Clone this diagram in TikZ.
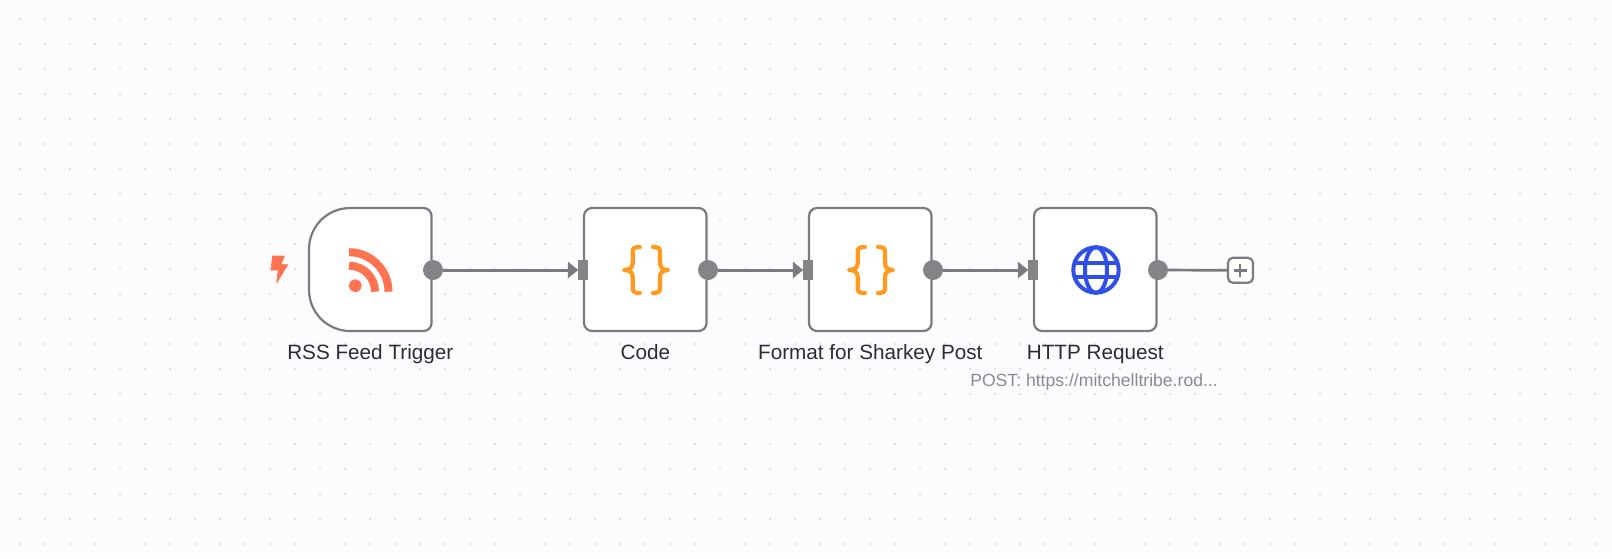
\documentclass[tikz,border=0pt]{standalone}
\usepackage{fontspec}
\setmainfont{Liberation Sans}
\usetikzlibrary{arrows.meta}
\definecolor{bgc}{HTML}{FCFBFE}
\definecolor{dotc}{HTML}{DEDEE3}
\definecolor{linec}{HTML}{7B7A80}
\definecolor{portc}{HTML}{858388}
\definecolor{rssc}{HTML}{FF7350}
\definecolor{bracec}{HTML}{FF9A1F}
\definecolor{globec}{HTML}{2F4FE6}
\definecolor{labelc}{HTML}{2C2C38}
\definecolor{subc}{HTML}{8A8A96}
\tikzset{
  nodebox/.style={draw=linec,fill=white,line width=2.2pt,rounded corners=8pt,minimum width=122.5pt,minimum height=123pt,inner sep=0pt,outer sep=0pt},
  triggerbox/.style={minimum width=122.5pt,minimum height=123pt,inner sep=0pt,outer sep=0pt},
  triggeredge/.style={draw=linec,fill=white,line width=2.2pt},
  inport/.style={fill=portc,minimum width=9.7pt,minimum height=20pt,inner sep=0pt,outer sep=0pt},
  outport/.style={circle,fill=portc,minimum size=20pt,inner sep=0pt,outer sep=0pt},
  plusbox/.style={draw=linec,fill=white,line width=2.2pt,rounded corners=5pt,minimum size=25pt,inner sep=0pt,outer sep=0pt},
  wire/.style={draw=linec,line width=3pt},
  wirearrow/.style={wire,-{Triangle[length=10.5pt,width=16pt]}},
  nodelabel/.style={text=labelc,font=\fontsize{20.7}{24}\selectfont,inner sep=0pt,anchor=base},
  sublabel/.style={text=subc,font=\fontsize{17.6}{20}\selectfont,inner sep=0pt,anchor=base},
  bracepen/.style={draw=bracec,line width=4.2pt,line cap=round,line join=round},
  globepen/.style={draw=globec,line width=4pt},
  bracesicon/.pic={
    \draw[bracepen] (-5.5,-23) -- (-8,-23) .. controls (-11,-23) and (-12.6,-21.5) .. (-12.6,-18) -- (-12.6,-7) .. controls (-12.6,-3) and (-15,0) .. (-21.3,0) .. controls (-15,0) and (-12.6,3) .. (-12.6,7) -- (-12.6,18) .. controls (-12.6,21.5) and (-11,23) .. (-8,23) -- (-5.5,23);
    \draw[bracepen] (7.7,-23) -- (10,-23) .. controls (13,-23) and (14.7,-21.5) .. (14.7,-18) -- (14.7,-7) .. controls (14.7,-3) and (17,0) .. (22.7,0) .. controls (17,0) and (14.7,3) .. (14.7,7) -- (14.7,18) .. controls (14.7,21.5) and (13,23) .. (10,23) -- (7.7,23);
  }
}
\begin{document}
\begin{tikzpicture}[x=1pt,y=-1pt]
\useasboundingbox (0,0) rectangle (1612,558);
\fill[bgc] (0,0) rectangle (1612,558);
\foreach \gx in {0,...,63}{
  \foreach \gy in {0,...,21}{
    \fill[dotc] ({19+25*\gx},{18+25*\gy}) rectangle ++(2,2);
  }
}
% nodes
\node[triggerbox] (n1) at (370.3,269.5) {};
\draw[triggeredge]
  ([xshift=41pt]n1.north west) .. controls ([xshift=18.4pt]n1.north west) and ([yshift=-18.4pt]n1.north west) .. ([yshift=-41pt]n1.north west)
  -- ([yshift=41pt]n1.south west) .. controls ([yshift=18.4pt]n1.south west) and ([xshift=18.4pt]n1.south west) .. ([xshift=41pt]n1.south west)
  -- ([xshift=-8pt]n1.south east) .. controls ([xshift=-3.6pt]n1.south east) and ([yshift=3.6pt]n1.south east) .. ([yshift=8pt]n1.south east)
  -- ([yshift=-8pt]n1.north east) .. controls ([yshift=-3.6pt]n1.north east) and ([xshift=-3.6pt]n1.north east) .. ([xshift=-8pt]n1.north east)
  -- cycle;
\node[nodebox] (n2) at (645.3,269.5) {};
\node[nodebox] (n3) at (870.3,269.5) {};
\node[nodebox] (n4) at (1095.3,269.5) {};
% ports
\node[outport] (o1) at (433,270) {};
\node[inport] (i2) at (583.2,270) {};
\node[outport] (o2) at (708,270) {};
\node[inport] (i3) at (808.2,270) {};
\node[outport] (o3) at (933,270) {};
\node[inport] (i4) at (1033.2,270) {};
\node[outport] (o4) at (1158,270) {};
\node[plusbox] (add) at (1240.5,270.3) {};
% connectors
\draw[wirearrow] (o1) -- (i2.west);
\draw[wirearrow] (o2) -- (i3.west);
\draw[wirearrow] (o3) -- (i4.west);
\draw[wire,line width=2.7pt] (o4) -- (add.west);
\draw[draw=linec,line width=2.5pt] (1234,270.3) -- (1246.5,270.3) (1240.2,264) -- (1240.2,276.5);
% trigger bolt
\fill[rssc,draw=rssc,line width=0.8pt,line join=round] (272.7,256) -- (284.3,256) -- (280.7,264.7) -- (287.7,264.7) -- (276.7,282.7) -- (278.3,270) -- (271,270) -- cycle;
% rss icon
\fill[rssc] (355.3,285.7) circle[radius=6.3];
\draw[draw=rssc,line width=8pt] (349,252.2) .. controls (370.8,252.2) and (388.5,269.9) .. (388.5,291.7);
\draw[draw=rssc,line width=8pt] (349,265.7) .. controls (363.4,265.7) and (375,277.3) .. (375,291.7);
% brace icons
\pic at (645.3,270) {bracesicon};
\pic at (870.3,270) {bracesicon};
% globe icon
\draw[globepen] (1096,270) circle[radius=22.7];
\draw[globepen] (1096,270) ellipse[x radius=11,y radius=22.7];
\draw[globepen] (1074.4,263) -- (1117.6,263) (1074.4,277) -- (1117.6,277);
% labels
\node[nodelabel] (l1) at (370.3,359.7) {RSS Feed Trigger};
\node[nodelabel] (l2) at (645.3,359.7) {Code};
\node[nodelabel] (l3) at (870.3,359.7) {Format for Sharkey Post};
\node[nodelabel] (l4) at (1095.3,359.7) {HTTP Request};
\node[sublabel] (l5) at (1094,386.7) {POST: https://mitchelltribe.rod...};
\end{tikzpicture}
\end{document}
